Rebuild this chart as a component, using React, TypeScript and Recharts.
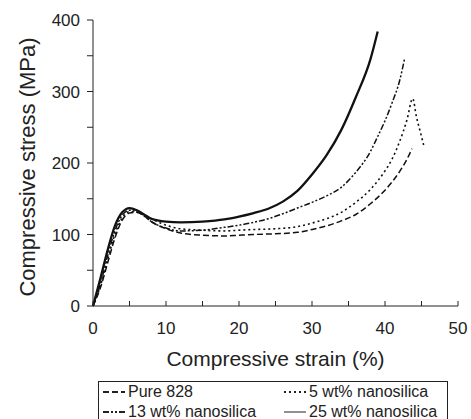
import React from "react";
import { LineChart, Line, XAxis, YAxis, Label } from "recharts";

// strain (%) / stress (MPa)
const pureStrain = [0, 1, 2, 3, 4, 5, 6, 7, 8, 10, 12, 15, 18, 20, 22, 25, 28, 30, 32, 34, 36, 38, 40, 42, 43, 43.7];
const pureStress = [0, 25, 60, 95, 120, 130, 131, 126, 118, 108, 102, 99, 98, 99, 100, 101, 103, 107, 112, 119, 128, 143, 162, 188, 205, 220];

const ns5Strain = [0, 1, 2, 3, 4, 5, 6, 7, 8, 10, 12, 15, 18, 20, 22, 25, 28, 30, 32, 34, 36, 38, 40, 41, 42, 43, 43.8, 44.3, 44.8, 45.3];
const ns5Stress = [0, 28, 65, 100, 123, 132, 131, 127, 122, 113, 108, 106, 105, 106, 107, 108, 111, 116, 122, 131, 145, 163, 189, 206, 230, 260, 290, 265, 245, 225];

const ns13Strain = [0, 1, 2, 3, 4, 5, 6, 7, 8, 10, 12, 15, 18, 20, 22, 24, 26, 28, 30, 32, 34, 36, 38, 39, 40, 41, 42, 42.7];
const ns13Stress = [0, 30, 70, 105, 127, 134, 132, 126, 118, 109, 105, 106, 110, 113, 117, 122, 129, 137, 145, 154, 166, 187, 216, 237, 259, 285, 315, 347];

const ns25Strain = [0, 1, 2, 3, 4, 5, 6, 7, 8, 10, 12, 15, 18, 20, 22, 24, 26, 28, 30, 32, 34, 36, 38, 39];
const ns25Stress = [0, 38, 78, 112, 131, 137, 134, 128, 122, 118, 117, 118, 121, 125, 130, 136, 146, 161, 184, 211, 246, 292, 345, 384];

const xTicks = [0, 5, 10, 15, 20, 25, 30, 35, 40, 45, 50];
const yTicks = [0, 50, 100, 150, 200, 250, 300, 350, 400];

const zip = (xs: number[], ys: number[]) => xs.map((x, i) => ({ x, y: ys[i] }));

const series = [
  { name: "Pure 828", data: zip(pureStrain, pureStress), dash: "6 3", width: 1.5 },
  { name: "5 wt% nanosilica", data: zip(ns5Strain, ns5Stress), dash: "2 3", width: 1.6 },
  { name: "13 wt% nanosilica", data: zip(ns13Strain, ns13Stress), dash: "6 2 2 2 2 2", width: 1.5 },
  { name: "25 wt% nanosilica", data: zip(ns25Strain, ns25Stress), dash: undefined, width: 2.3 },
];

const font = "'Liberation Sans', Arial, sans-serif";
const ink = "#222";

function LegendSample({ dash, width }: { dash?: string; width: number }) {
  return (
    <svg width={22} height={10} style={{ marginRight: 3, flexShrink: 0 }}>
      <line x1={0} y1={5} x2={22} y2={5} stroke={ink} strokeWidth={width > 2 ? 1 : 1.8} strokeDasharray={dash} />
    </svg>
  );
}

export default function App() {
  return (
    <div style={{ position: "absolute", left: 0, top: 0, width: 471, height: 419, overflow: "hidden", background: "#fff", fontFamily: font }}>
      <LineChart width={471} height={370} margin={{ top: 20, right: 13, left: 0, bottom: 0 }}>
        <XAxis
          dataKey="x"
          type="number"
          domain={[0, 50]}
          ticks={xTicks}
          interval={0}
          tickFormatter={(v: number) => (v % 10 === 0 ? String(v) : "")}
          tickSize={-5}
          tickMargin={21}
          height={64}
          stroke={ink}
          tick={{ fill: ink, fontSize: 17, fontFamily: font }}
        >
          <Label value="Compressive strain (%)" position="center" dy={21} fill={ink} fontSize={21} fontFamily={font} />
        </XAxis>
        <YAxis
          type="number"
          domain={[0, 400]}
          ticks={yTicks}
          interval={0}
          tickFormatter={(v: number) => (v % 100 === 0 ? String(v) : "")}
          tickSize={6}
          tickMargin={7}
          width={93}
          stroke={ink}
          tick={{ fill: ink, fontSize: 17, fontFamily: font }}
        >
          <Label value="Compressive stress (MPa)" angle={-90} position="center" dx={-19.5} dy={4} fill={ink} fontSize={22} fontFamily={font} />
        </YAxis>
        {series.map((s) => (
          <Line
            key={s.name}
            data={s.data}
            dataKey="y"
            type="monotone"
            stroke="#111"
            strokeWidth={s.width}
            strokeDasharray={s.dash}
            dot={false}
            isAnimationActive={false}
          />
        ))}
      </LineChart>
      <div
        style={{
          position: "absolute",
          left: 98,
          top: 381,
          width: 348,
          height: 40,
          border: `1px solid ${ink}`,
          borderBottom: "none",
          display: "grid",
          gridTemplateColumns: "181px 167px",
          gridTemplateRows: "20px 20px",
          fontSize: 16,
          color: ink,
          lineHeight: "18px",
        }}
      >
        {series.map((s) => (
          <div key={s.name} style={{ display: "flex", alignItems: "center", paddingLeft: 4, whiteSpace: "nowrap" }}>
            <LegendSample dash={s.dash} width={s.width} />
            <span>{s.name}</span>
          </div>
        ))}
      </div>
    </div>
  );
}
